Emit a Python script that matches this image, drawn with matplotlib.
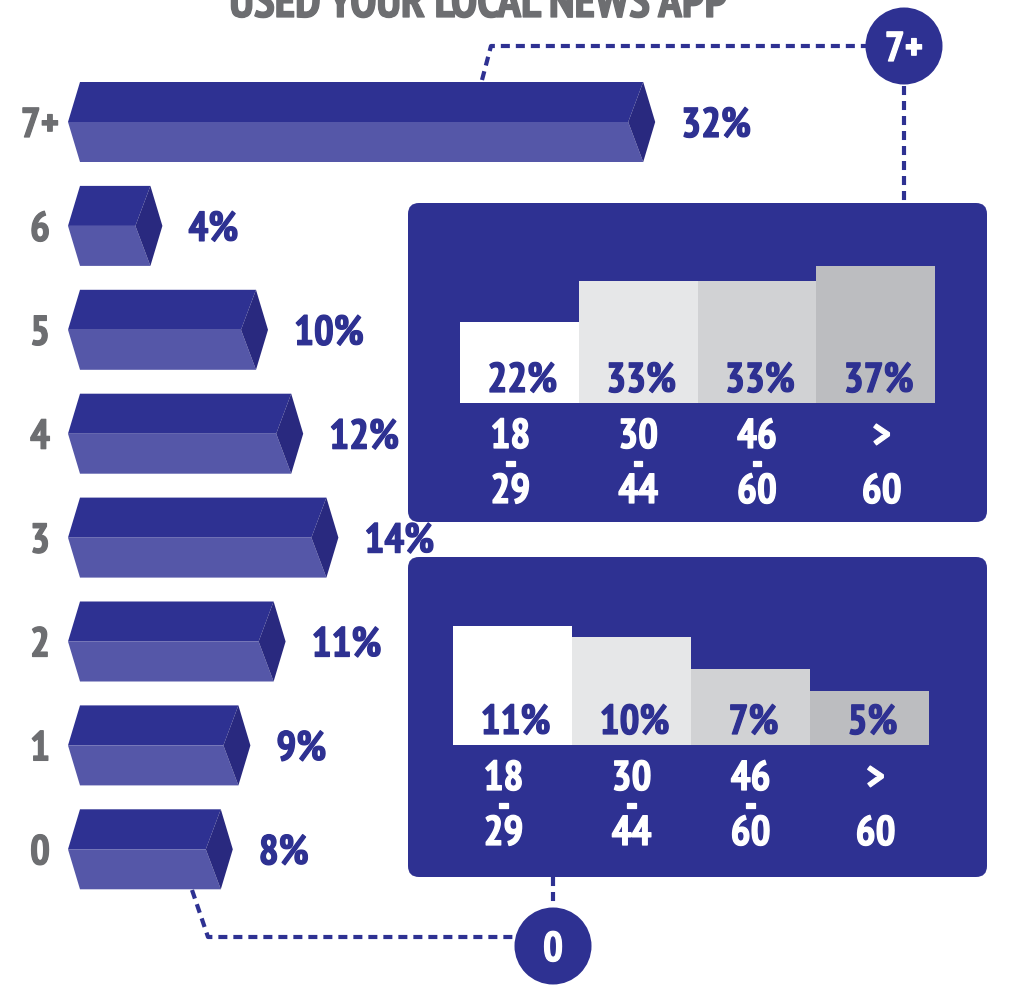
import matplotlib.pyplot as plt
from matplotlib import font_manager as fm
from matplotlib import patheffects as pe
from matplotlib.patches import Polygon, FancyBboxPatch, Circle

installed = {f.name for f in fm.fontManager.ttflist}
candidates = ['PT Sans Narrow', 'Fira Sans Condensed', 'Roboto Condensed',
              'Open Sans Condensed', 'Barlow Condensed', 'Liberation Sans Narrow']
family = [c for c in candidates if c in installed][:1] + ['DejaVu Sans']
plt.rcParams['font.family'] = family
plt.rcParams['font.weight'] = 'bold'
plt.rcParams['lines.scale_dashes'] = False

title = 'USED YOUR LOCAL NEWS APP'
times_labels = ['7+', '6', '5', '4', '3', '2', '1', '0']
times_values = [32, 4, 10, 12, 14, 11, 9, 8]

age_groups = ['18\n-\n29', '30\n-\n44', '46\n-\n60', '>\n \n60']
share_7plus = [22, 33, 33, 37]
share_0 = [11, 10, 7, 5]

BLUE = '#2e3192'
BLUE_LIGHT = '#5557a8'
BLUE_DARK = '#29297f'
GRAY = '#6d6e71'
age_colors = ['#ffffff', '#e6e7e8', '#d1d2d4', '#bcbdc0']
age_shift = [-9, 0, 0, 6]   # px nudges of the age labels

W, H = 1009, 988
PX = 0.72  # pixels -> points at 100 dpi
FS = 30
fig = plt.figure(figsize=(W / 100, H / 100), dpi=100)
r = fig.canvas.get_renderer()


def heavy(color):
    return [pe.withStroke(linewidth=0.9, foreground=color)]


# pixel layer: panels, circles, dashed connectors, title
deco = fig.add_axes([0, 0, 1, 1])
deco.set_xlim(0, W)
deco.set_ylim(H, 0)
deco.axis('off')

t = deco.text(478, 17, title, ha='center', va='baseline', fontsize=30, color=GRAY,
              path_effects=heavy(GRAY))
t.set_fontsize(30 * 498 / t.get_window_extent(r).width)

for y0, h in [(203, 319), (557, 320)]:
    deco.add_patch(FancyBboxPatch((408, y0), 579, h,
                                  boxstyle='round,pad=0,rounding_size=11',
                                  fc=BLUE, ec='none'))

dash = dict(color=BLUE, lw=3, dashes=(6.5, 4.3), solid_capstyle='butt')
deco.plot([482, 491, 866], [80, 46, 46], **dash)
deco.plot([904, 904], [86, 203], **dash)
deco.plot([192, 208, 515], [890, 937, 937], **dash)
deco.plot([553, 553], [877, 907], **dash)

for (cx, cy), lab in [((904, 46), '7+'), ((553, 946), '0')]:
    deco.add_patch(Circle((cx, cy), 38.5, fc=BLUE, ec='none'))
    deco.text(cx, cy + 15, lab, ha='center', va='baseline', fontsize=FS, color='white',
              path_effects=heavy('white'))

# 3D bars, x in percent, y in rows
sx, x0 = 17.6, 80      # px per percent, pixel of 0 %
sy, y0 = 103.9, 122    # px per row, pixel of first row
ax = fig.add_axes([0, 0, 1, 1])
ax.set_xlim(-x0 / sx, (W - x0) / sx)
ax.set_ylim((H - y0) / sy, -y0 / sy)
ax.axis('off')

dl = 12 / sx      # left point depth
din = 15 / sx     # inner edge of right facet
dout = 12 / sx    # right point
hh = 40 / sy
for i, (lab, v) in enumerate(zip(times_labels, times_values)):
    top, bot = i - hh, i + hh
    ax.add_patch(Polygon([(-dl, i), (0, top), (v, top), (v - din, i)], fc=BLUE, ec='none'))
    ax.add_patch(Polygon([(-dl, i), (v - din, i), (v, bot), (0, bot)], fc=BLUE_LIGHT, ec='none'))
    ax.add_patch(Polygon([(v, top), (v + dout, i), (v, bot), (v - din, i)], fc=BLUE_DARK, ec='none'))
    base = i + 15 / sy
    ax.text(-40 / sx, base, lab, ha='center', va='baseline', fontsize=FS, color=GRAY,
            path_effects=heavy(GRAY))
    ax.text(v + dout + 26 / sx, base, f'{v}%', ha='left', va='baseline', fontsize=FS,
            color=BLUE, path_effects=heavy(BLUE))

# line spacing of the stacked age labels: 27.5 px between baselines
# (matplotlib adds the previous line's descent to the spacing)
fp = fm.FontProperties(family=family, weight='bold', size=FS)
_, lp_h, lp_d = r.get_text_width_height_descent('lp', fp, ismath=False)
age_ls = (27.5 - lp_d) / (lp_h - lp_d)


def age_panel(rect, values, scale):
    a = fig.add_axes(rect)
    a.set_xlim(-0.5, 3.5)
    a.set_ylim(0, rect[3] * H / scale)
    a.axis('off')
    xs = range(len(values))
    a.bar(xs, values, width=1.0, color=age_colors)
    for i, v in zip(xs, values):
        a.annotate(f'{v}%', (i, 0), xytext=(3 * PX, 11 * PX), textcoords='offset points',
                   ha='center', va='baseline', fontsize=FS, color=BLUE,
                   path_effects=heavy(BLUE))
        # baseline of the last line, 100 px under the bars
        a.annotate(age_groups[i], (i, 0), xytext=(age_shift[i] * PX, -100 * PX),
                   textcoords='offset points', ha='center', va='baseline',
                   multialignment='center', linespacing=age_ls, fontsize=FS,
                   color='white', annotation_clip=False, path_effects=heavy('white'))


age_panel([460 / W, (H - 403) / H, 475 / W, 190 / H], share_7plus, 3.7)
age_panel([453 / W, (H - 745) / H, 476 / W, 180 / H], share_0, 10.8)

fig.savefig('out.png', dpi=100)
